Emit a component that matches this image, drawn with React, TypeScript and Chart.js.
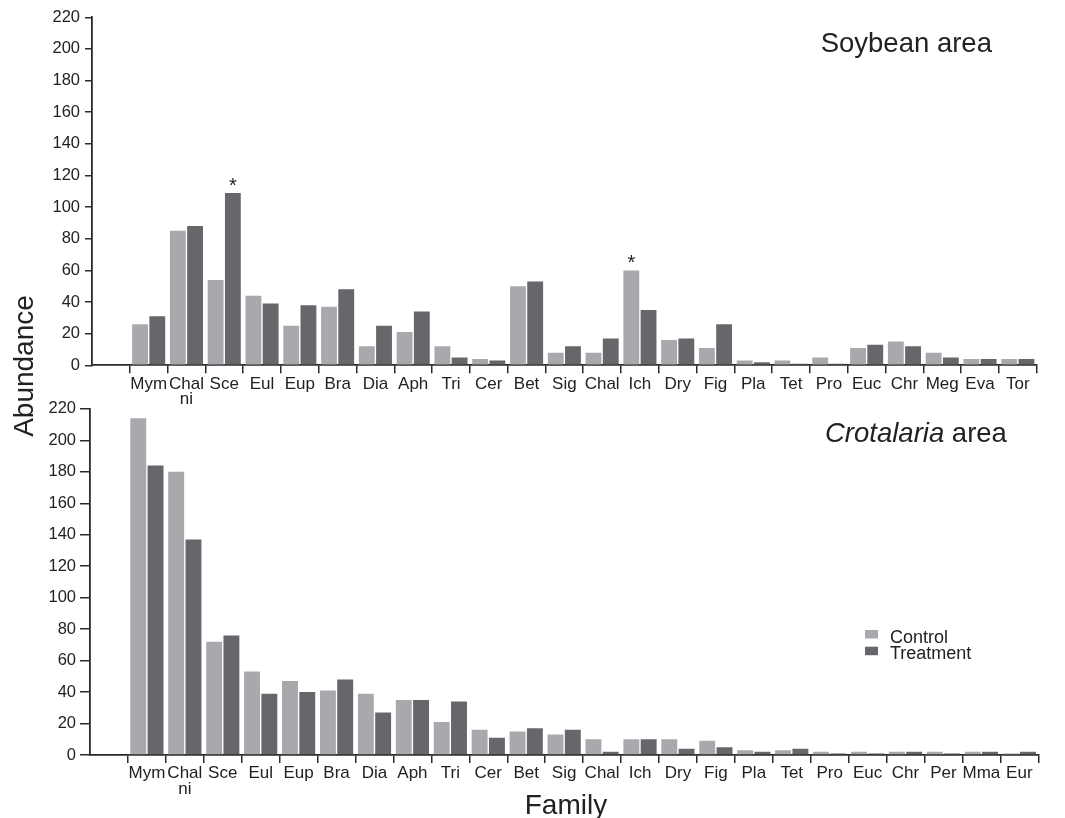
import React, { useEffect, useRef } from 'react';
import { Chart, registerables } from 'chart.js';

Chart.register(...registerables);

const FONT = "'Liberation Sans', Arial, Helvetica, sans-serif";
const AXIS_COLOR = '#2a2a2a';
const TEXT_COLOR = '#222222';
const CONTROL_COLOR = '#a8a9ad';
const TREATMENT_COLOR = '#66676b';

// ---- Data ----
const soyFamilies: (string | string[])[] = ['Mym', ['Chal', 'ni'], 'Sce', 'Eul', 'Eup', 'Bra', 'Dia', 'Aph', 'Tri', 'Cer', 'Bet', 'Sig', 'Chal', 'Ich', 'Dry', 'Fig', 'Pla', 'Tet', 'Pro', 'Euc', 'Chr', 'Meg', 'Eva', 'Tor'];
const soyControl = [26, 85, 54, 44, 25, 37, 12, 21, 12, 4, 50, 8, 8, 60, 16, 11, 3, 3, 5, 11, 15, 8, 4, 4];
const soyTreatment = [31, 88, 109, 39, 38, 48, 25, 34, 5, 3, 53, 12, 17, 35, 17, 26, 2, 1, 1, 13, 12, 5, 4, 4];
// [series (0 control, 1 treatment), family index]
const soyStars: [number, number][] = [[1, 2], [0, 13]];

const crotFamilies: (string | string[])[] = ['Mym', ['Chal', 'ni'], 'Sce', 'Eul', 'Eup', 'Bra', 'Dia', 'Aph', 'Tri', 'Cer', 'Bet', 'Sig', 'Chal', 'Ich', 'Dry', 'Fig', 'Pla', 'Tet', 'Pro', 'Euc', 'Chr', 'Per', 'Mma', 'Eur'];
const crotControl = [214, 180, 72, 53, 47, 41, 39, 35, 21, 16, 15, 13, 10, 10, 10, 9, 3, 3, 2, 2, 2, 2, 2, 1];
const crotTreatment = [184, 137, 76, 39, 40, 48, 27, 35, 34, 11, 17, 16, 2, 10, 4, 5, 2, 4, 1, 1, 2, 1, 2, 2];
const crotStars: [number, number][] = [];

const seriesNames = ['Control', 'Treatment'];
const yTickMax = 220;
const yTickStep = 20;

const starPlugin = {
  id: 'stars',
  afterDatasetsDraw(chart: any, _args: any, opts: any) {
    const marks: [number, number][] = opts.marks || [];
    const ctx = chart.ctx;
    ctx.save();
    ctx.fillStyle = TEXT_COLOR;
    ctx.font = `20px ${FONT}`;
    ctx.textAlign = 'center';
    ctx.textBaseline = 'alphabetic';
    marks.forEach(([s, i]) => {
      const el = chart.getDatasetMeta(s).data[i + 1];
      if (el) ctx.fillText('*', el.x, el.y - 1);
    });
    ctx.restore();
  },
};

const legendPlugin = {
  id: 'boxLegend',
  afterDraw(chart: any, _args: any, opts: any) {
    if (!opts.show) return;
    const ctx = chart.ctx;
    ctx.save();
    ctx.font = `18px ${FONT}`;
    ctx.textBaseline = 'alphabetic';
    ctx.textAlign = 'left';
    chart.data.datasets.forEach((ds: any, i: number) => {
      const y = opts.y + i * 16.7;
      ctx.fillStyle = ds.backgroundColor;
      ctx.fillRect(opts.x, y, 13, 8.5);
      ctx.fillStyle = TEXT_COLOR;
      ctx.fillText(ds.label, opts.x + 25, y + 12.5);
    });
    ctx.restore();
  },
};

interface PanelProps {
  families: (string | string[])[];
  control: number[];
  treatment: number[];
  stars: [number, number][];
  height: number;
  pad: { top: number; right: number };
  yWidth: number;
  xHeight: number;
  yTickLen: number;
  yPad: number;
  legend?: { x: number; y: number };
}

function Panel(p: PanelProps) {
  const ref = useRef<HTMLCanvasElement>(null);
  useEffect(() => {
    if (!ref.current) return;
    const labels = ['', ...p.families];
    const chart = new Chart(ref.current, {
      type: 'bar',
      data: {
        labels,
        datasets: [
          { label: seriesNames[0], data: [null, ...p.control], backgroundColor: CONTROL_COLOR, categoryPercentage: 0.912, barPercentage: 0.92 },
          { label: seriesNames[1], data: [null, ...p.treatment], backgroundColor: TREATMENT_COLOR, categoryPercentage: 0.912, barPercentage: 0.92 },
        ],
      },
      options: {
        animation: false,
        responsive: false,
        maintainAspectRatio: false,
        layout: { padding: { top: p.pad.top, right: p.pad.right, left: 0, bottom: 0 } },
        plugins: {
          legend: { display: false },
          tooltip: { enabled: false },
          stars: { marks: p.stars },
          boxLegend: p.legend ? { show: true, x: p.legend.x, y: p.legend.y } : { show: false },
        } as any,
        scales: {
          x: {
            type: 'category',
            offset: true,
            grid: {
              offset: true,
              drawOnChartArea: false,
              drawTicks: true,
              tickLength: 8,
              lineWidth: 1.5,
              color: (c: any) => (c.index === 0 ? 'rgba(0,0,0,0)' : AXIS_COLOR),
            },
            border: { display: true, color: AXIS_COLOR, width: 1.8 },
            ticks: {
              autoSkip: false,
              maxRotation: 0,
              minRotation: 0,
              padding: 3,
              color: TEXT_COLOR,
              font: { family: FONT, size: 17, lineHeight: 0.9 },
            },
            afterFit: (s: any) => { s.height = p.xHeight; },
          },
          y: {
            min: 0,
            max: yTickMax,
            grid: {
              drawOnChartArea: false,
              drawTicks: true,
              tickLength: p.yTickLen,
              lineWidth: 1.5,
              color: AXIS_COLOR,
            },
            border: { display: true, color: AXIS_COLOR, width: 1.8 },
            ticks: {
              stepSize: yTickStep,
              padding: p.yPad,
              color: TEXT_COLOR,
              font: { family: FONT, size: 16.5 },
            },
            afterFit: (s: any) => { s.width = p.yWidth; },
          },
        },
      },
      plugins: [starPlugin, legendPlugin],
    });
    return () => chart.destroy();
  }, []);
  return <canvas ref={ref} width={1065} height={p.height} style={{ display: 'block', width: 1065, height: p.height }} />;
}

const titleStyle: React.CSSProperties = {
  position: 'absolute',
  fontFamily: FONT,
  color: TEXT_COLOR,
  whiteSpace: 'nowrap',
};

export default function App() {
  return (
    <div style={{ position: 'absolute', left: 0, top: 0, width: 1065, height: 818, background: '#fff', overflow: 'hidden' }}>
      <div style={{ position: 'absolute', left: 0, top: 0 }}>
        <Panel
          families={soyFamilies}
          control={soyControl}
          treatment={soyTreatment}
          stars={soyStars}
          height={405}
          pad={{ top: 17.3, right: 28.3 }}
          yWidth={92}
          xHeight={39.7}
          yTickLen={7}
          yPad={5}
        />
      </div>
      <div style={{ position: 'absolute', left: 0, top: 395 }}>
        <Panel
          families={crotFamilies}
          control={crotControl}
          treatment={crotTreatment}
          stars={crotStars}
          height={423}
          pad={{ top: 12.3, right: 26.7 }}
          yWidth={90}
          xHeight={63}
          yTickLen={10}
          yPad={4}
          legend={{ x: 865, y: 630 - 395 }}
        />
      </div>
      <div style={{ ...titleStyle, left: 820.7, top: 29, fontSize: 27.5, lineHeight: '27.5px' }}>Soybean area</div>
      <div style={{ ...titleStyle, left: 825, top: 419, fontSize: 27.5, lineHeight: '27.5px' }}>
        <i>Crotalaria</i> area
      </div>
      <div style={{ ...titleStyle, left: 466, top: 790.6, width: 200, textAlign: 'center', fontSize: 28, lineHeight: '28px' }}>Family</div>
      <div
        style={{
          ...titleStyle,
          left: -76.4,
          top: 352,
          width: 200,
          height: 28,
          textAlign: 'center',
          fontSize: 28,
          lineHeight: '28px',
          transform: 'rotate(-90deg)',
          transformOrigin: 'center center',
        }}
      >
        Abundance
      </div>
    </div>
  );
}
